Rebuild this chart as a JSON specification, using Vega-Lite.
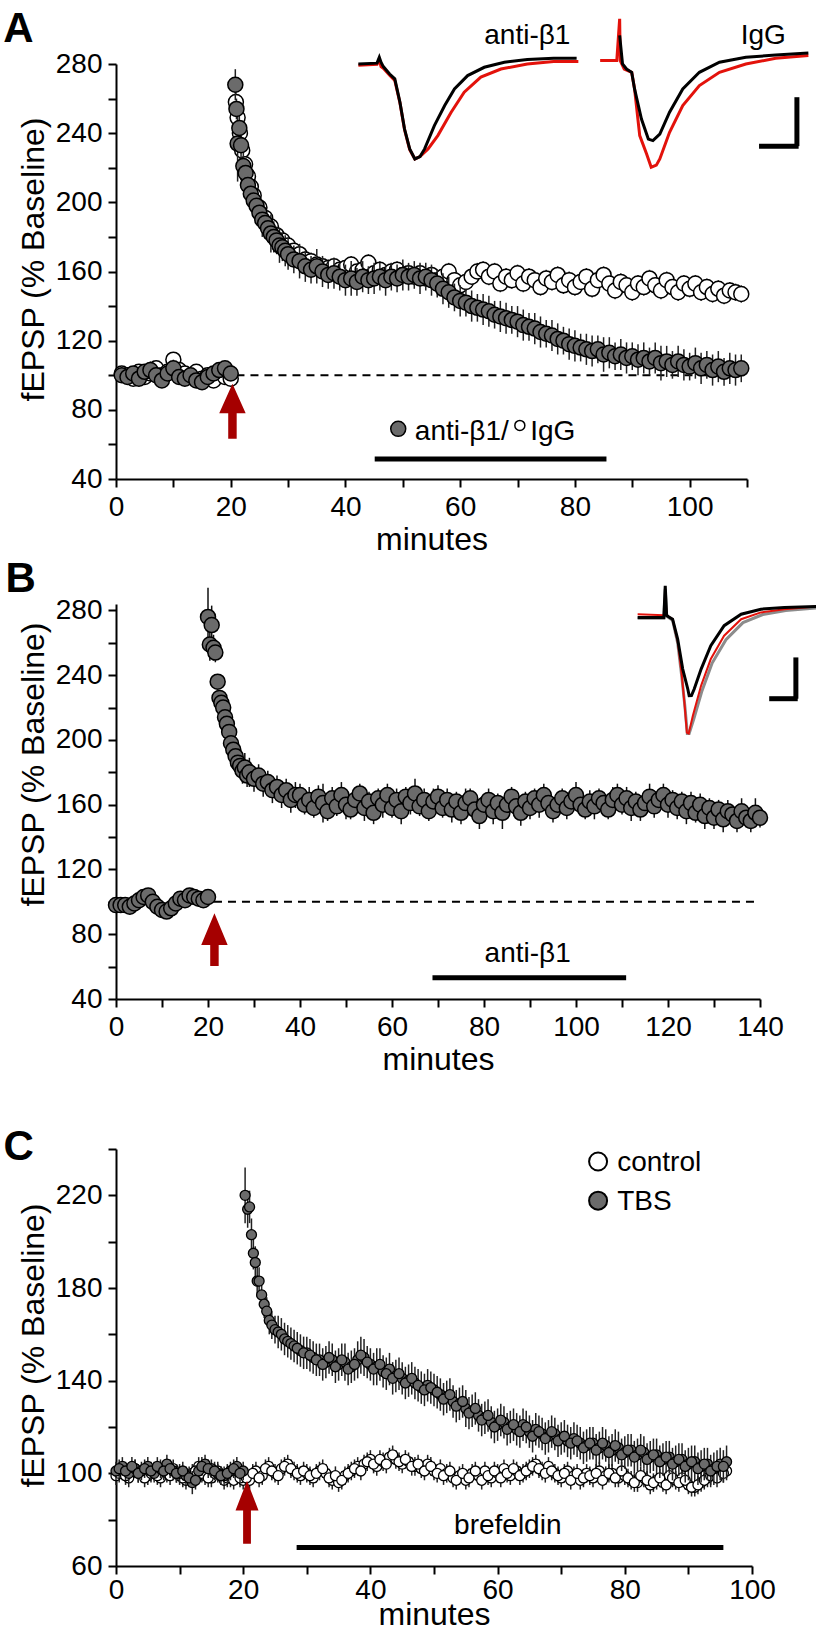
{
"$schema":"https://vega.github.io/schema/vega-lite/v6.json",
"background":"white",
"padding":{"left":3,"top":8,"right":5,"bottom":0},
"bounds":"flush",
"spacing":125,
"config":{
 "view":{"stroke":null},
 "font":"Liberation Sans",
 "axis":{"domainColor":"#000","domainWidth":2,"tickColor":"#000","tickWidth":2,"tickSize":8,"labelFontSize":28,"labelColor":"#000","labelFont":"Liberation Sans","titleFont":"Liberation Sans","titleFontSize":32,"titleFontWeight":"normal","titleColor":"#000","grid":false,"labelOverlap":false,"labelFlush":false},
 "axisX":{"labelPadding":6,"titlePadding":3},
 "axisY":{"labelPadding":6,"titlePadding":5},
 "text":{"font":"Liberation Sans","fontSize":28,"color":"#000"}
},
"datasets":{
 "aG":[{"t":1,"v":100,"e":3},{"t":2,"v":99,"e":3},{"t":3,"v":101,"e":3},{"t":4,"v":98,"e":4},{"t":5,"v":102,"e":4},{"t":6,"v":103,"e":5},{"t":7,"v":100,"e":4},{"t":8,"v":97,"e":4},{"t":9,"v":101,"e":4},{"t":10,"v":104,"e":5},{"t":11,"v":99,"e":4},{"t":12,"v":98,"e":4},{"t":13,"v":100,"e":4},{"t":14,"v":97,"e":4},{"t":15,"v":96,"e":4},{"t":16,"v":99,"e":4},{"t":17,"v":101,"e":4},{"t":18,"v":103,"e":4},{"t":19,"v":104,"e":4},{"t":20,"v":101,"e":4},
 {"t":20.8,"v":268,"e":9},{"t":21.0,"v":254,"e":6},{"t":21.2,"v":234,"e":22},{"t":21.5,"v":243,"e":8},{"t":21.8,"v":233,"e":10},{"t":22.2,"v":221,"e":8},{"t":22.6,"v":217,"e":7},{"t":23.0,"v":210,"e":7},{"t":23.5,"v":205,"e":8},{"t":24.0,"v":201,"e":7},{"t":24.5,"v":198,"e":7},{"t":25,"v":194,"e":9},{"t":25.5,"v":190,"e":10},{"t":26,"v":188,"e":9},{"t":26.5,"v":185,"e":8},{"t":27,"v":182,"e":11},{"t":27.5,"v":180,"e":9},{"t":28,"v":178,"e":8},{"t":28.5,"v":175,"e":10},{"t":29,"v":174,"e":8},{"t":29.5,"v":172,"e":9},{"t":30,"v":170,"e":9},{"t":31,"v":167,"e":8},{"t":32,"v":166,"e":10},{"t":33,"v":163,"e":9},{"t":34,"v":161,"e":8},{"t":35,"v":163,"e":10},{"t":36,"v":160,"e":9},{"t":37,"v":158,"e":8},{"t":38,"v":159,"e":9},{"t":39,"v":157,"e":8},{"t":40,"v":155,"e":9},{"t":41,"v":156,"e":10},{"t":42,"v":154,"e":8},{"t":43,"v":157,"e":9},{"t":44,"v":155,"e":8},{"t":45,"v":156,"e":9},{"t":46,"v":157,"e":8},{"t":47,"v":155,"e":9},{"t":48,"v":157,"e":8},{"t":49,"v":156,"e":8},{"t":50,"v":158,"e":9},{"t":51,"v":157,"e":8},{"t":52,"v":158,"e":8},{"t":53,"v":156,"e":9},{"t":54,"v":157,"e":8},{"t":55,"v":155,"e":9},{"t":56,"v":153,"e":8},{"t":57,"v":150,"e":9},{"t":58,"v":148,"e":9},{"t":59,"v":145,"e":8},{"t":60,"v":143,"e":9},{"t":61,"v":142,"e":8},{"t":62,"v":140,"e":9},{"t":63,"v":139,"e":8},{"t":64,"v":138,"e":9},{"t":65,"v":137,"e":9},{"t":66,"v":135,"e":8},{"t":67,"v":134,"e":9},{"t":68,"v":133,"e":9},{"t":69,"v":132,"e":8},{"t":70,"v":131,"e":9},{"t":71,"v":129,"e":9},{"t":72,"v":128,"e":8},{"t":73,"v":127,"e":9},{"t":74,"v":125,"e":9},{"t":75,"v":124,"e":8},{"t":76,"v":123,"e":9},{"t":77,"v":121,"e":9},{"t":78,"v":120,"e":8},{"t":79,"v":118,"e":9},{"t":80,"v":117,"e":9},{"t":81,"v":116,"e":8},{"t":82,"v":115,"e":9},{"t":83,"v":114,"e":9},{"t":84,"v":115,"e":8},{"t":85,"v":112,"e":10},{"t":86,"v":113,"e":9},{"t":87,"v":111,"e":8},{"t":88,"v":112,"e":9},{"t":89,"v":110,"e":9},{"t":90,"v":111,"e":8},{"t":91,"v":109,"e":9},{"t":92,"v":110,"e":9},{"t":93,"v":108,"e":8},{"t":94,"v":110,"e":9},{"t":95,"v":107,"e":10},{"t":96,"v":108,"e":9},{"t":97,"v":106,"e":8},{"t":98,"v":108,"e":9},{"t":99,"v":106,"e":9},{"t":100,"v":105,"e":8},{"t":101,"v":107,"e":9},{"t":102,"v":104,"e":9},{"t":103,"v":106,"e":8},{"t":104,"v":103,"e":9},{"t":105,"v":105,"e":9},{"t":106,"v":102,"e":8},{"t":107,"v":104,"e":9},{"t":108,"v":103,"e":9},{"t":109,"v":104,"e":8}],
 "aI":[{"t":1,"v":101,"e":2},{"t":2,"v":100,"e":2},{"t":3,"v":98,"e":2},{"t":4,"v":102,"e":3},{"t":5,"v":99,"e":2},{"t":6,"v":101,"e":3},{"t":7,"v":104,"e":3},{"t":8,"v":100,"e":2},{"t":9,"v":102,"e":3},{"t":10,"v":109,"e":3},{"t":11,"v":103,"e":3},{"t":12,"v":101,"e":2},{"t":13,"v":99,"e":3},{"t":14,"v":102,"e":3},{"t":15,"v":98,"e":2},{"t":16,"v":100,"e":3},{"t":17,"v":97,"e":2},{"t":18,"v":102,"e":3},{"t":19,"v":99,"e":2},{"t":20,"v":98,"e":3},
 {"t":20.9,"v":258,"e":6},{"t":21.2,"v":249,"e":6},{"t":21.6,"v":240,"e":5},{"t":22.0,"v":230,"e":6},{"t":22.5,"v":222,"e":5},{"t":23,"v":215,"e":5},{"t":23.5,"v":209,"e":5},{"t":24,"v":204,"e":5},{"t":25,"v":197,"e":5},{"t":26,"v":191,"e":5},{"t":27,"v":186,"e":5},{"t":28,"v":181,"e":5},{"t":29,"v":178,"e":5},{"t":30,"v":175,"e":5},{"t":31,"v":172,"e":5},{"t":32,"v":170,"e":5},{"t":33,"v":167,"e":5},{"t":34,"v":166,"e":5},{"t":35,"v":164,"e":5},{"t":36,"v":163,"e":5},{"t":37,"v":162,"e":5},{"t":38,"v":163,"e":5},{"t":39,"v":161,"e":5},{"t":40,"v":162,"e":5},{"t":41,"v":164,"e":5},{"t":42,"v":160,"e":5},{"t":43,"v":161,"e":5},{"t":44,"v":165,"e":5},{"t":45,"v":159,"e":5},{"t":46,"v":161,"e":5},{"t":47,"v":158,"e":5},{"t":48,"v":160,"e":5},{"t":49,"v":161,"e":5},{"t":50,"v":158,"e":5},{"t":51,"v":159,"e":5},{"t":52,"v":157,"e":5},{"t":53,"v":159,"e":5},{"t":54,"v":156,"e":5},{"t":55,"v":158,"e":5},{"t":56,"v":155,"e":5},{"t":57,"v":157,"e":5},{"t":58,"v":160,"e":5},{"t":59,"v":155,"e":5},{"t":60,"v":152,"e":5},{"t":61,"v":154,"e":5},{"t":62,"v":157,"e":5},{"t":63,"v":160,"e":5},{"t":64,"v":161,"e":5},{"t":65,"v":157,"e":5},{"t":66,"v":160,"e":5},{"t":67,"v":153,"e":5},{"t":68,"v":157,"e":5},{"t":69,"v":155,"e":5},{"t":70,"v":159,"e":5},{"t":71,"v":153,"e":5},{"t":72,"v":157,"e":5},{"t":73,"v":155,"e":5},{"t":74,"v":151,"e":5},{"t":75,"v":156,"e":5},{"t":76,"v":154,"e":5},{"t":77,"v":158,"e":5},{"t":78,"v":152,"e":5},{"t":79,"v":155,"e":5},{"t":80,"v":151,"e":5},{"t":81,"v":154,"e":5},{"t":82,"v":157,"e":5},{"t":83,"v":150,"e":5},{"t":84,"v":155,"e":5},{"t":85,"v":158,"e":5},{"t":86,"v":153,"e":5},{"t":87,"v":149,"e":5},{"t":88,"v":154,"e":5},{"t":89,"v":152,"e":5},{"t":90,"v":148,"e":5},{"t":91,"v":153,"e":5},{"t":92,"v":151,"e":5},{"t":93,"v":156,"e":5},{"t":94,"v":152,"e":5},{"t":95,"v":149,"e":5},{"t":96,"v":155,"e":5},{"t":97,"v":151,"e":5},{"t":98,"v":148,"e":5},{"t":99,"v":153,"e":5},{"t":100,"v":150,"e":5},{"t":101,"v":153,"e":5},{"t":102,"v":148,"e":5},{"t":103,"v":151,"e":5},{"t":104,"v":147,"e":5},{"t":105,"v":150,"e":5},{"t":106,"v":146,"e":5},{"t":107,"v":149,"e":5},{"t":108,"v":148,"e":5},{"t":109,"v":147,"e":5}],
 "aTrK":[{"g":"ab","i":1,"t":42.25,"v":280},{"g":"ab","i":2,"t":45.5,"v":280.5},{"g":"ab","i":3,"t":45.9,"v":283.9},{"g":"ab","i":4,"t":46.2,"v":281},{"g":"ab","i":5,"t":46.6,"v":278.5},{"g":"ab","i":6,"t":47.7,"v":274.2},{"g":"ab","i":7,"t":48.6,"v":271.4},{"g":"ab","i":8,"t":49.5,"v":257.9},{"g":"ab","i":9,"t":50.3,"v":242.4},{"g":"ab","i":10,"t":51.2,"v":230.9},{"g":"ab","i":11,"t":52.1,"v":225.1},{"g":"ab","i":12,"t":53.0,"v":226.5},{"g":"ab","i":13,"t":53.8,"v":230.9},{"g":"ab","i":14,"t":55.5,"v":244.4},{"g":"ab","i":15,"t":57.3,"v":256},{"g":"ab","i":16,"t":59.0,"v":265.6},{"g":"ab","i":17,"t":61.3,"v":273.3},{"g":"ab","i":18,"t":64.2,"v":278.1},{"g":"ab","i":19,"t":67.7,"v":281},{"g":"ab","i":20,"t":71.7,"v":282.6},{"g":"ab","i":21,"t":76.3,"v":283.3},{"g":"ab","i":22,"t":80.3,"v":283.3},
 {"g":"ig","i":1,"t":87.8,"v":296.6},{"g":"ig","i":2,"t":88.3,"v":280},{"g":"ig","i":3,"t":89.0,"v":277.1},{"g":"ig","i":4,"t":89.9,"v":275.2},{"g":"ig","i":5,"t":90.4,"v":265.6},{"g":"ig","i":6,"t":91.6,"v":248.2},{"g":"ig","i":7,"t":92.8,"v":236.6},{"g":"ig","i":8,"t":93.6,"v":235.7},{"g":"ig","i":9,"t":94.8,"v":239.5},{"g":"ig","i":10,"t":96.5,"v":252.1},{"g":"ig","i":11,"t":98.8,"v":265.6},{"g":"ig","i":12,"t":101.7,"v":275.2},{"g":"ig","i":13,"t":105.2,"v":281},{"g":"ig","i":14,"t":109.8,"v":283.9},{"g":"ig","i":15,"t":115.0,"v":285.2},{"g":"ig","i":16,"t":120.7,"v":286.4}],
 "aTrR":[{"g":"ab","i":1,"t":42.25,"v":279.3},{"g":"ab","i":2,"t":45.5,"v":279.8},{"g":"ab","i":3,"t":45.9,"v":282.5},{"g":"ab","i":4,"t":46.2,"v":278.5},{"g":"ab","i":5,"t":46.6,"v":277.5},{"g":"ab","i":6,"t":47.7,"v":273.5},{"g":"ab","i":7,"t":48.6,"v":270.5},{"g":"ab","i":8,"t":49.5,"v":257.5},{"g":"ab","i":9,"t":50.3,"v":242},{"g":"ab","i":10,"t":51.2,"v":230.5},{"g":"ab","i":11,"t":52.1,"v":225.1},{"g":"ab","i":12,"t":53.0,"v":226.5},{"g":"ab","i":13,"t":54.4,"v":230.9},{"g":"ab","i":14,"t":56.1,"v":238.6},{"g":"ab","i":15,"t":58.4,"v":252},{"g":"ab","i":16,"t":60.7,"v":263.7},{"g":"ab","i":17,"t":63.6,"v":272.4},{"g":"ab","i":18,"t":67.1,"v":277.1},{"g":"ab","i":19,"t":71.7,"v":280},{"g":"ab","i":20,"t":76.3,"v":281.4},{"g":"ab","i":21,"t":80.6,"v":281.4},
 {"g":"ig","i":1,"t":84.4,"v":282},{"g":"ig","i":2,"t":87.3,"v":282},{"g":"ig","i":3,"t":87.8,"v":306.1},{"g":"ig","i":4,"t":87.9,"v":282},{"g":"ig","i":5,"t":88.6,"v":277},{"g":"ig","i":6,"t":89.9,"v":275.2},{"g":"ig","i":7,"t":90.4,"v":265.6},{"g":"ig","i":8,"t":91.3,"v":238.6},{"g":"ig","i":9,"t":92.5,"v":228},{"g":"ig","i":10,"t":93.3,"v":220.3},{"g":"ig","i":11,"t":94.2,"v":221.5},{"g":"ig","i":12,"t":94.8,"v":225.1},{"g":"ig","i":13,"t":96.5,"v":240.5},{"g":"ig","i":14,"t":98.8,"v":256},{"g":"ig","i":15,"t":101.7,"v":267.5},{"g":"ig","i":16,"t":105.2,"v":275.2},{"g":"ig","i":17,"t":109.8,"v":280},{"g":"ig","i":18,"t":115.0,"v":283.3},{"g":"ig","i":19,"t":120.7,"v":284.9}],
 "b":[{"t":0,"v":98,"e":2},{"t":1,"v":98,"e":2},{"t":2,"v":98,"e":2},{"t":3,"v":97,"e":2},{"t":4,"v":99,"e":3},{"t":5,"v":101,"e":3},{"t":6,"v":103,"e":4},{"t":7,"v":104,"e":4},{"t":8,"v":100,"e":3},{"t":9,"v":97,"e":3},{"t":10,"v":95,"e":3},{"t":11,"v":94,"e":4},{"t":12,"v":96,"e":3},{"t":13,"v":99,"e":3},{"t":14,"v":102,"e":3},{"t":15,"v":101,"e":3},{"t":16,"v":104,"e":3},{"t":17,"v":103,"e":3},{"t":18,"v":102,"e":3},{"t":19,"v":101,"e":3},{"t":20,"v":103,"e":3},
 {"t":20.0,"v":276,"e":18},{"t":20.4,"v":259,"e":10},{"t":20.8,"v":271,"e":12},{"t":21.2,"v":257,"e":8},{"t":21.6,"v":254,"e":6},{"t":22.1,"v":236,"e":4},{"t":22.5,"v":226,"e":4},{"t":22.9,"v":223,"e":4},{"t":23.3,"v":220,"e":4},{"t":23.7,"v":214,"e":4},{"t":24.1,"v":210,"e":4},{"t":24.6,"v":205,"e":4},{"t":25.0,"v":198,"e":4},{"t":25.5,"v":194,"e":5},{"t":26.0,"v":190,"e":5},{"t":26.5,"v":186,"e":5},{"t":27,"v":184,"e":6},{"t":27.5,"v":181,"e":8},{"t":28,"v":183,"e":9},{"t":28.5,"v":178,"e":7},{"t":29,"v":180,"e":9},{"t":30,"v":176,"e":8},{"t":31,"v":178,"e":7},{"t":32,"v":173,"e":8},{"t":33,"v":174,"e":7},{"t":34,"v":169,"e":8},{"t":35,"v":171,"e":7},{"t":36,"v":166,"e":8},{"t":37,"v":169,"e":7},{"t":38,"v":163,"e":8},{"t":39,"v":166,"e":8},
 {"t":40,"v":166,"e":7},{"t":41,"v":160,"e":6},{"t":42,"v":163,"e":8},{"t":43,"v":158,"e":6},{"t":44,"v":165,"e":7},{"t":45,"v":161,"e":12},{"t":46,"v":156,"e":6},{"t":47,"v":164,"e":7},{"t":48,"v":159,"e":6},{"t":49,"v":166,"e":8},{"t":50,"v":160,"e":9},{"t":51,"v":157,"e":6},{"t":52,"v":163,"e":7},{"t":53,"v":167,"e":6},{"t":54,"v":158,"e":8},{"t":55,"v":162,"e":6},{"t":56,"v":155,"e":7},{"t":57,"v":164,"e":6},{"t":58,"v":160,"e":8},{"t":59,"v":166,"e":7},{"t":60,"v":158,"e":6},{"t":61,"v":163,"e":7},{"t":62,"v":156,"e":8},{"t":63,"v":165,"e":6},{"t":64,"v":161,"e":7},{"t":65,"v":167,"e":9},{"t":66,"v":159,"e":6},{"t":67,"v":163,"e":7},{"t":68,"v":156,"e":6},{"t":69,"v":162,"e":8},{"t":70,"v":165,"e":7},{"t":71,"v":158,"e":6},{"t":72,"v":163,"e":7},{"t":73,"v":157,"e":8},{"t":74,"v":162,"e":6},{"t":75,"v":155,"e":7},{"t":76,"v":161,"e":9},{"t":77,"v":164,"e":6},{"t":78,"v":157,"e":7},{"t":79,"v":153,"e":8},{"t":80,"v":160,"e":6},{"t":81,"v":163,"e":7},{"t":82,"v":156,"e":8},{"t":83,"v":161,"e":6},{"t":84,"v":155,"e":10},{"t":85,"v":160,"e":7},{"t":86,"v":165,"e":6},{"t":87,"v":159,"e":7},{"t":88,"v":155,"e":8},{"t":89,"v":162,"e":6},{"t":90,"v":158,"e":7},{"t":91,"v":164,"e":6},{"t":92,"v":160,"e":8},{"t":93,"v":166,"e":7},{"t":94,"v":161,"e":6},{"t":95,"v":156,"e":7},{"t":96,"v":160,"e":8},{"t":97,"v":164,"e":6},{"t":98,"v":158,"e":7},{"t":99,"v":162,"e":6},{"t":100,"v":166,"e":8},{"t":101,"v":160,"e":7},{"t":102,"v":157,"e":6},{"t":103,"v":162,"e":7},{"t":104,"v":159,"e":8},{"t":105,"v":164,"e":6},{"t":106,"v":161,"e":7},{"t":107,"v":157,"e":6},{"t":108,"v":163,"e":8},{"t":109,"v":166,"e":7},{"t":110,"v":160,"e":6},{"t":111,"v":164,"e":7},{"t":112,"v":158,"e":8},{"t":113,"v":162,"e":6},{"t":114,"v":157,"e":7},{"t":115,"v":161,"e":6},{"t":116,"v":165,"e":8},{"t":117,"v":159,"e":7},{"t":118,"v":163,"e":6},{"t":119,"v":166,"e":7},{"t":120,"v":160,"e":8},{"t":121,"v":163,"e":6},{"t":122,"v":158,"e":7},{"t":123,"v":162,"e":6},{"t":124,"v":156,"e":8},{"t":125,"v":161,"e":7},{"t":126,"v":155,"e":6},{"t":127,"v":160,"e":7},{"t":128,"v":153,"e":8},{"t":129,"v":158,"e":6},{"t":130,"v":152,"e":7},{"t":131,"v":157,"e":6},{"t":132,"v":151,"e":8},{"t":133,"v":156,"e":7},{"t":134,"v":154,"e":6},{"t":135,"v":150,"e":7},{"t":136,"v":156,"e":8},{"t":137,"v":152,"e":6},{"t":138,"v":150,"e":7},{"t":139,"v":155,"e":9},{"t":140,"v":152,"e":6}],
 "bTrG":[{"i":1,"t":113.4,"v":275.2},{"i":2,"t":119.1,"v":275.2},{"i":3,"t":119.4,"v":293},{"i":4,"t":119.7,"v":276.5},{"i":5,"t":120.2,"v":275.5},{"i":6,"t":121,"v":274},{"i":7,"t":122.1,"v":260},{"i":8,"t":123.0,"v":239},{"i":9,"t":123.7,"v":220},{"i":10,"t":124.2,"v":204},{"i":11,"t":124.6,"v":204},{"i":12,"t":125.6,"v":213},{"i":13,"t":127.4,"v":230.5},{"i":14,"t":129.6,"v":247.5},{"i":15,"t":132.6,"v":262},{"i":16,"t":136.3,"v":272.5},{"i":17,"t":140.6,"v":277.5},{"i":18,"t":145.6,"v":280},{"i":19,"t":152.2,"v":281.5}],
 "bTrR":[{"i":1,"t":113.4,"v":277.7},{"i":2,"t":119.1,"v":277.1},{"i":3,"t":119.4,"v":290},{"i":4,"t":119.7,"v":277},{"i":5,"t":120.2,"v":276},{"i":6,"t":121,"v":274.6},{"i":7,"t":122.1,"v":261},{"i":8,"t":123.0,"v":240},{"i":9,"t":123.6,"v":222},{"i":10,"t":124.1,"v":204.5},{"i":11,"t":124.5,"v":204},{"i":12,"t":125.4,"v":215},{"i":13,"t":127.2,"v":233.6},{"i":14,"t":129.3,"v":250},{"i":15,"t":132.2,"v":264.4},{"i":16,"t":135.9,"v":274.6},{"i":17,"t":140.2,"v":278.8},{"i":18,"t":145.3,"v":280.8},{"i":19,"t":152.2,"v":282.5}],
 "bTrK":[{"i":1,"t":113.4,"v":275.7},{"i":2,"t":119.1,"v":275.7},{"i":3,"t":119.4,"v":295.2},{"i":4,"t":119.7,"v":277},{"i":5,"t":120.2,"v":276},{"i":6,"t":121,"v":274.6},{"i":7,"t":122.1,"v":262.3},{"i":8,"t":123.2,"v":243.8},{"i":9,"t":124.3,"v":231.5},{"i":10,"t":124.6,"v":227.4},{"i":11,"t":125.1,"v":227.5},{"i":12,"t":125.7,"v":231.5},{"i":13,"t":127.2,"v":243.8},{"i":14,"t":129.3,"v":258.2},{"i":15,"t":132.2,"v":270.6},{"i":16,"t":135.9,"v":277.7},{"i":17,"t":140.2,"v":280.8},{"i":18,"t":145.3,"v":281.9},{"i":19,"t":152.2,"v":282.5}],
 "cT":[{"t":0,"v":101,"e":4},{"t":1,"v":103,"e":4},{"t":2,"v":100,"e":4},{"t":3,"v":102,"e":4},{"t":4,"v":101,"e":4},{"t":5,"v":103,"e":4},{"t":6,"v":100,"e":4},{"t":7,"v":102,"e":4},{"t":8,"v":104,"e":4},{"t":9,"v":101,"e":4},{"t":10,"v":100,"e":4},{"t":11,"v":99,"e":4},{"t":12,"v":96,"e":5},{"t":13,"v":101,"e":4},{"t":14,"v":104,"e":4},{"t":15,"v":102,"e":4},{"t":16,"v":100,"e":4},{"t":17,"v":99,"e":4},{"t":18,"v":101,"e":4},{"t":19,"v":103,"e":4},{"t":20,"v":101,"e":4},
 {"t":0.5,"v":102,"e":4},{"t":1.5,"v":101,"e":4},{"t":2.5,"v":103,"e":4},{"t":3.5,"v":100,"e":4},{"t":4.5,"v":102,"e":4},{"t":5.5,"v":101,"e":4},{"t":6.5,"v":103,"e":4},{"t":7.5,"v":101,"e":4},{"t":8.5,"v":102,"e":4},{"t":9.5,"v":100,"e":4},{"t":10.5,"v":101,"e":4},{"t":11.5,"v":98,"e":4},{"t":12.5,"v":97,"e":4},{"t":13.5,"v":103,"e":4},{"t":14.5,"v":102,"e":4},{"t":15.5,"v":101,"e":4},{"t":16.5,"v":99,"e":4},{"t":17.5,"v":100,"e":4},{"t":18.5,"v":102,"e":4},{"t":19.5,"v":100,"e":4},
 {"t":20.3,"v":220,"e":12},{"t":20.7,"v":214,"e":8},{"t":21.0,"v":215,"e":7},{"t":21.3,"v":203,"e":7},{"t":21.6,"v":195,"e":7},{"t":21.9,"v":191,"e":7},{"t":22.2,"v":183,"e":7},{"t":22.5,"v":183,"e":6},{"t":22.9,"v":177,"e":6},{"t":23.3,"v":173,"e":6},{"t":23.7,"v":170,"e":6},{"t":24.1,"v":166,"e":6},{"t":24.5,"v":164,"e":6},{"t":25,"v":162,"e":6},{"t":25.5,"v":161,"e":7},{"t":26,"v":160,"e":7},{"t":26.5,"v":158,"e":7},{"t":27,"v":157,"e":7},{"t":27.5,"v":156,"e":7},{"t":28,"v":155,"e":7},{"t":29,"v":153,"e":7},{"t":30,"v":152,"e":7},{"t":31,"v":150,"e":7},{"t":32,"v":149,"e":7},{"t":33,"v":148,"e":7},{"t":34,"v":149,"e":7},{"t":35,"v":147,"e":7},{"t":36,"v":148,"e":8},{"t":37,"v":146,"e":7},{"t":38,"v":149,"e":8},{"t":39,"v":150,"e":8},{"t":40,"v":147,"e":7},{"t":41,"v":146,"e":8},{"t":42,"v":144,"e":7},{"t":43,"v":145,"e":7},{"t":44,"v":142,"e":7},{"t":45,"v":141,"e":7},{"t":46,"v":140,"e":7},{"t":47,"v":139,"e":7},{"t":48,"v":137,"e":7},{"t":49,"v":138,"e":7},{"t":50,"v":136,"e":7},{"t":51,"v":134,"e":7},{"t":52,"v":133,"e":7},{"t":53,"v":131,"e":7},{"t":54,"v":130,"e":7},{"t":55,"v":128,"e":8},{"t":56,"v":127,"e":7},{"t":57,"v":125,"e":7},{"t":58,"v":124,"e":7},{"t":59,"v":122,"e":7},{"t":60,"v":121,"e":7},{"t":61,"v":122,"e":7},{"t":62,"v":120,"e":7},{"t":63,"v":119,"e":7},{"t":64,"v":121,"e":7},{"t":65,"v":118,"e":7},{"t":66,"v":119,"e":7},{"t":67,"v":117,"e":7},{"t":68,"v":116,"e":7},{"t":69,"v":117,"e":7},{"t":70,"v":115,"e":7},{"t":71,"v":114,"e":7},{"t":72,"v":115,"e":7},{"t":73,"v":113,"e":7},{"t":74,"v":112,"e":7},{"t":75,"v":113,"e":7},{"t":76,"v":111,"e":7},{"t":77,"v":112,"e":7},{"t":78,"v":110,"e":7},{"t":79,"v":111,"e":7},{"t":80,"v":109,"e":7},{"t":81,"v":110,"e":7},{"t":82,"v":108,"e":7},{"t":83,"v":109,"e":7},{"t":84,"v":107,"e":7},{"t":85,"v":108,"e":7},{"t":86,"v":106,"e":7},{"t":87,"v":107,"e":7},{"t":88,"v":105,"e":7},{"t":89,"v":106,"e":7},{"t":90,"v":104,"e":7},{"t":91,"v":105,"e":7},{"t":92,"v":103,"e":7},{"t":93,"v":104,"e":7},{"t":94,"v":102,"e":7},{"t":95,"v":104,"e":7},{"t":96,"v":105,"e":7},
 {"t":28.5,"v":154,"e":7},{"t":29.5,"v":152,"e":7},{"t":30.5,"v":151,"e":7},{"t":31.5,"v":149,"e":7},{"t":32.5,"v":147,"e":7},{"t":33.5,"v":150,"e":7},{"t":34.5,"v":146,"e":7},{"t":35.5,"v":149,"e":7},{"t":36.5,"v":145,"e":7},{"t":37.5,"v":147,"e":7},{"t":38.5,"v":151,"e":8},{"t":39.5,"v":148,"e":7},{"t":40.5,"v":145,"e":7},{"t":41.5,"v":147,"e":7},{"t":42.5,"v":143,"e":7},{"t":43.5,"v":141,"e":7},{"t":44.5,"v":143,"e":7},{"t":45.5,"v":139,"e":7},{"t":46.5,"v":141,"e":7},{"t":47.5,"v":138,"e":7},{"t":48.5,"v":136,"e":7},{"t":49.5,"v":137,"e":7},{"t":50.5,"v":135,"e":7},{"t":51.5,"v":132,"e":7},{"t":52.5,"v":134,"e":7},{"t":53.5,"v":129,"e":7},{"t":54.5,"v":131,"e":7},{"t":55.5,"v":126,"e":7},{"t":56.5,"v":128,"e":7},{"t":57.5,"v":123,"e":7},{"t":58.5,"v":125,"e":7},{"t":59.5,"v":120,"e":7},{"t":60.5,"v":123,"e":7},{"t":61.5,"v":119,"e":7},{"t":62.5,"v":121,"e":7},{"t":63.5,"v":118,"e":7},{"t":64.5,"v":120,"e":7},{"t":65.5,"v":116,"e":7},{"t":66.5,"v":118,"e":7},{"t":67.5,"v":115,"e":7},{"t":68.5,"v":118,"e":7},{"t":69.5,"v":114,"e":7},{"t":70.5,"v":116,"e":7},{"t":71.5,"v":113,"e":7},{"t":72.5,"v":114,"e":7},{"t":73.5,"v":111,"e":7},{"t":74.5,"v":113,"e":7},{"t":75.5,"v":110,"e":7},{"t":76.5,"v":113,"e":7},{"t":77.5,"v":109,"e":7},{"t":78.5,"v":112,"e":7},{"t":79.5,"v":108,"e":7},{"t":80.5,"v":110,"e":7},{"t":81.5,"v":107,"e":7},{"t":82.5,"v":110,"e":7},{"t":83.5,"v":106,"e":7},{"t":84.5,"v":108,"e":7},{"t":85.5,"v":105,"e":7},{"t":86.5,"v":107,"e":7},{"t":87.5,"v":104,"e":7},{"t":88.5,"v":106,"e":7},{"t":89.5,"v":103,"e":7},{"t":90.5,"v":105,"e":7},{"t":91.5,"v":102,"e":7},{"t":92.5,"v":104,"e":7},{"t":93.5,"v":101,"e":7},{"t":94.5,"v":103,"e":7},{"t":95.5,"v":103,"e":7}],
 "cC":[{"t":0,"v":99,"e":4},{"t":1,"v":101,"e":4},{"t":2,"v":98,"e":4},{"t":3,"v":102,"e":4},{"t":4,"v":100,"e":4},{"t":5,"v":99,"e":4},{"t":6,"v":101,"e":4},{"t":7,"v":98,"e":4},{"t":8,"v":100,"e":4},{"t":9,"v":102,"e":4},{"t":10,"v":99,"e":4},{"t":11,"v":97,"e":4},{"t":12,"v":100,"e":4},{"t":13,"v":103,"e":4},{"t":14,"v":99,"e":4},{"t":15,"v":98,"e":4},{"t":16,"v":101,"e":4},{"t":17,"v":97,"e":4},{"t":18,"v":98,"e":4},{"t":19,"v":99,"e":4},{"t":20,"v":97,"e":4},
 {"t":0.5,"v":100,"e":4},{"t":1.5,"v":99,"e":4},{"t":2.5,"v":101,"e":4},{"t":3.5,"v":100,"e":4},{"t":4.5,"v":98,"e":4},{"t":5.5,"v":100,"e":4},{"t":6.5,"v":99,"e":4},{"t":7.5,"v":101,"e":4},{"t":8.5,"v":99,"e":4},{"t":9.5,"v":100,"e":4},{"t":10.5,"v":98,"e":4},{"t":11.5,"v":99,"e":4},{"t":12.5,"v":101,"e":4},{"t":13.5,"v":100,"e":4},{"t":14.5,"v":98,"e":4},{"t":15.5,"v":100,"e":4},{"t":16.5,"v":99,"e":4},{"t":17.5,"v":98,"e":4},{"t":18.5,"v":97,"e":4},{"t":19.5,"v":98,"e":4},
 {"t":21,"v":97,"e":4},{"t":22,"v":101,"e":4},{"t":23,"v":99,"e":4},{"t":24,"v":103,"e":4},{"t":25,"v":100,"e":4},{"t":26,"v":102,"e":4},{"t":27,"v":104,"e":4},{"t":28,"v":101,"e":4},{"t":29,"v":99,"e":4},{"t":30,"v":100,"e":4},{"t":31,"v":98,"e":4},{"t":32,"v":101,"e":4},{"t":33,"v":100,"e":4},{"t":34,"v":97,"e":4},{"t":35,"v":96,"e":4},{"t":36,"v":99,"e":4},{"t":37,"v":101,"e":4},{"t":38,"v":103,"e":4},{"t":39,"v":104,"e":4},{"t":40,"v":106,"e":4},{"t":41,"v":103,"e":4},{"t":42,"v":105,"e":4},{"t":43,"v":107,"e":4},{"t":44,"v":106,"e":4},{"t":45,"v":104,"e":4},{"t":46,"v":105,"e":4},{"t":47,"v":103,"e":4},{"t":48,"v":102,"e":4},{"t":49,"v":104,"e":4},{"t":50,"v":101,"e":4},{"t":51,"v":102,"e":4},{"t":52,"v":100,"e":4},{"t":53,"v":98,"e":4},{"t":54,"v":99,"e":4},{"t":55,"v":97,"e":4},{"t":56,"v":100,"e":4},{"t":57,"v":99,"e":4},{"t":58,"v":101,"e":4},{"t":59,"v":98,"e":4},{"t":60,"v":100,"e":4},{"t":61,"v":102,"e":4},{"t":62,"v":99,"e":4},{"t":63,"v":101,"e":4},{"t":64,"v":100,"e":4},{"t":65,"v":102,"e":4},{"t":66,"v":104,"e":4},{"t":67,"v":101,"e":4},{"t":68,"v":103,"e":4},{"t":69,"v":100,"e":4},{"t":70,"v":98,"e":4},{"t":71,"v":101,"e":4},{"t":72,"v":99,"e":4},{"t":73,"v":97,"e":4},{"t":74,"v":100,"e":4},{"t":75,"v":98,"e":4},{"t":76,"v":101,"e":4},{"t":77,"v":99,"e":4},{"t":78,"v":100,"e":4},{"t":79,"v":98,"e":4},{"t":80,"v":99,"e":4},{"t":81,"v":97,"e":4},{"t":82,"v":96,"e":4},{"t":83,"v":98,"e":4},{"t":84,"v":95,"e":4},{"t":85,"v":97,"e":4},{"t":86,"v":96,"e":4},{"t":87,"v":99,"e":4},{"t":88,"v":97,"e":4},{"t":89,"v":98,"e":4},{"t":90,"v":95,"e":4},{"t":91,"v":94,"e":4},{"t":92,"v":96,"e":4},{"t":93,"v":98,"e":4},{"t":94,"v":100,"e":4},{"t":95,"v":102,"e":4},{"t":96,"v":101,"e":4},
 {"t":20.5,"v":98,"e":4},{"t":21.5,"v":100,"e":4},{"t":22.5,"v":98,"e":4},{"t":23.5,"v":102,"e":4},{"t":24.5,"v":101,"e":4},{"t":25.5,"v":99,"e":4},{"t":26.5,"v":103,"e":4},{"t":27.5,"v":102,"e":4},{"t":28.5,"v":100,"e":4},{"t":29.5,"v":101,"e":4},{"t":30.5,"v":99,"e":4},{"t":31.5,"v":100,"e":4},{"t":32.5,"v":102,"e":4},{"t":33.5,"v":98,"e":4},{"t":34.5,"v":99,"e":4},{"t":35.5,"v":97,"e":4},{"t":36.5,"v":100,"e":4},{"t":37.5,"v":102,"e":4},{"t":38.5,"v":101,"e":4},{"t":39.5,"v":105,"e":4},{"t":40.5,"v":104,"e":4},{"t":41.5,"v":106,"e":4},{"t":42.5,"v":104,"e":4},{"t":43.5,"v":108,"e":4},{"t":44.5,"v":105,"e":4},{"t":45.5,"v":106,"e":4},{"t":46.5,"v":103,"e":4},{"t":47.5,"v":104,"e":4},{"t":48.5,"v":101,"e":4},{"t":49.5,"v":103,"e":4},{"t":50.5,"v":100,"e":4},{"t":51.5,"v":99,"e":4},{"t":52.5,"v":101,"e":4},{"t":53.5,"v":97,"e":4},{"t":54.5,"v":100,"e":4},{"t":55.5,"v":98,"e":4},{"t":56.5,"v":101,"e":4},{"t":57.5,"v":97,"e":4},{"t":58.5,"v":99,"e":4},{"t":59.5,"v":101,"e":4},{"t":60.5,"v":98,"e":4},{"t":61.5,"v":100,"e":4},{"t":62.5,"v":102,"e":4},{"t":63.5,"v":99,"e":4},{"t":64.5,"v":101,"e":4},{"t":65.5,"v":103,"e":4},{"t":66.5,"v":102,"e":4},{"t":67.5,"v":100,"e":4},{"t":68.5,"v":101,"e":4},{"t":69.5,"v":99,"e":4},{"t":70.5,"v":100,"e":4},{"t":71.5,"v":97,"e":4},{"t":72.5,"v":100,"e":4},{"t":73.5,"v":98,"e":4},{"t":74.5,"v":99,"e":4},{"t":75.5,"v":100,"e":4},{"t":76.5,"v":97,"e":4},{"t":77.5,"v":100,"e":4},{"t":78.5,"v":98,"e":4},{"t":79.5,"v":101,"e":4},{"t":80.5,"v":98,"e":4},{"t":81.5,"v":96,"e":4},{"t":82.5,"v":99,"e":4},{"t":83.5,"v":97,"e":4},{"t":84.5,"v":96,"e":4},{"t":85.5,"v":98,"e":4},{"t":86.5,"v":95,"e":4},{"t":87.5,"v":98,"e":4},{"t":88.5,"v":96,"e":4},{"t":89.5,"v":97,"e":4},{"t":90.5,"v":94,"e":4},{"t":91.5,"v":95,"e":4},{"t":92.5,"v":97,"e":4},{"t":93.5,"v":99,"e":4},{"t":94.5,"v":98,"e":4},{"t":95.5,"v":100,"e":4}]
},
"vconcat":[
{
 "width":631,"height":415,
 "encoding":{
  "x":{"field":"t","type":"quantitative","scale":{"domain":[0,110],"nice":false,"zero":false},"axis":{"values":[0,10,20,30,40,50,60,70,80,90,100,110],"labelExpr":"datum.value % 20 == 0 ? datum.label : ''","title":"minutes"}},
  "y":{"field":"v","type":"quantitative","scale":{"domain":[40,280],"nice":false,"zero":false},"axis":{"values":[40,60,80,100,120,140,160,180,200,220,240,260,280],"labelExpr":"datum.value % 40 == 0 ? datum.label : ''","title":"fEPSP (% Baseline)","titleY":195}}
 },
 "layer":[
  {"data":{"values":[{"t":21,"t2":109.5,"v":100,"v2":100}]},"mark":{"type":"rule","strokeDash":[8,6],"strokeWidth":2,"color":"#000"},"encoding":{"x2":{"field":"t2"},"y2":{"field":"v2"}}},
  {"data":{"name":"aI"},"mark":{"type":"errorbar","ticks":false,"thickness":1.5,"color":"#333"},"encoding":{"yError":{"field":"e"}}},
  {"data":{"name":"aI"},"mark":{"type":"circle","size":225,"fill":"#fff","stroke":"#000","strokeWidth":1.5,"opacity":1}},
  {"data":{"name":"aG"},"mark":{"type":"errorbar","ticks":false,"thickness":1.5,"color":"#222"},"encoding":{"yError":{"field":"e"}}},
  {"data":{"name":"aG"},"mark":{"type":"circle","size":225,"fill":"#6b6b6b","stroke":"#000","strokeWidth":1.5,"opacity":1}},
  {"data":{"values":[{"t":45.1,"t2":85.5,"v":51.6,"v2":51.6},{"t":118.7,"t2":118.7,"v":260.8,"v2":232.5},{"t":112.1,"t2":119.0,"v":232.5,"v2":232.5}]},"mark":{"type":"rule","strokeWidth":5,"color":"#000"},"encoding":{"x2":{"field":"t2"},"y2":{"field":"v2"}}},
  {"data":{"values":[{"t":20.3,"v":78}]},"mark":{"type":"point","shape":"M0,-2.24L1,0L0.32,0L0.32,1.92L-0.32,1.92L-0.32,0L-1,0Z","size":700,"filled":true,"fill":"#a50000","strokeWidth":0,"opacity":1}},
  {"data":{"name":"aTrR"},"mark":{"type":"line","color":"#e3120b","strokeWidth":3},"encoding":{"detail":{"field":"g"},"order":{"field":"i"}}},
  {"data":{"name":"aTrK"},"mark":{"type":"line","color":"#000","strokeWidth":3},"encoding":{"detail":{"field":"g"},"order":{"field":"i"}}},
  {"data":{"values":[{"t":49.2,"v":69}]},"mark":{"type":"circle","size":225,"fill":"#6b6b6b","stroke":"#000","strokeWidth":1.5,"opacity":1}},
  {"data":{"values":[{"t":70.4,"v":71}]},"mark":{"type":"circle","size":100,"fill":"#fff","stroke":"#000","strokeWidth":1.5,"opacity":1}},
  {"data":{"values":[{"t":52.1,"v":62.8,"txt":"anti-β1/"},{"t":72.2,"v":62.8,"txt":"IgG"},{"t":64.2,"v":291.6,"txt":"anti-β1"},{"t":108.9,"v":291.6,"txt":"IgG"}]},"mark":{"type":"text","align":"left","baseline":"alphabetic","fontSize":28},"encoding":{"text":{"field":"txt"}}},
  {"data":{"values":[{"t":-17,"v":292.6,"txt":"A"}]},"mark":{"type":"text","align":"center","baseline":"alphabetic","fontSize":42,"fontWeight":"bold"},"encoding":{"text":{"field":"txt"}}}
 ]
},
{
 "width":644,"height":395,
 "encoding":{
  "x":{"field":"t","type":"quantitative","scale":{"domain":[0,140],"nice":false,"zero":false},"axis":{"values":[0,10,20,30,40,50,60,70,80,90,100,110,120,130,140],"labelExpr":"datum.value % 20 == 0 ? datum.label : ''","title":"minutes"}},
  "y":{"field":"v","type":"quantitative","scale":{"domain":[40,284],"nice":false,"zero":false},"axis":{"values":[40,60,80,100,120,140,160,180,200,220,240,260,280],"labelExpr":"datum.value % 40 == 0 ? datum.label : ''","title":"fEPSP (% Baseline)","titleY":160}}
 },
 "layer":[
  {"data":{"values":[{"t":21.3,"t2":139.1,"v":100,"v2":100}]},"mark":{"type":"rule","strokeDash":[8,6],"strokeWidth":2,"color":"#000"},"encoding":{"x2":{"field":"t2"},"y2":{"field":"v2"}}},
  {"data":{"name":"b"},"mark":{"type":"errorbar","ticks":false,"thickness":1.5,"color":"#111"},"encoding":{"yError":{"field":"e"}}},
  {"data":{"name":"b"},"mark":{"type":"circle","size":225,"fill":"#6b6b6b","stroke":"#000","strokeWidth":1.5,"opacity":1}},
  {"data":{"values":[{"t":68.8,"t2":110.9,"v":53.1,"v2":53.1},{"t":147.8,"t2":147.8,"v":251,"v2":225.5},{"t":142,"t2":148.2,"v":225.5,"v2":225.5}]},"mark":{"type":"rule","strokeWidth":5,"color":"#000"},"encoding":{"x2":{"field":"t2"},"y2":{"field":"v2"}}},
  {"data":{"values":[{"t":21.4,"v":73.4}]},"mark":{"type":"point","shape":"M0,-2.4L1,0L0.32,0L0.32,1.6L-0.32,1.6L-0.32,0L-1,0Z","size":700,"filled":true,"fill":"#a50000","strokeWidth":0,"opacity":1}},
  {"data":{"name":"bTrG"},"mark":{"type":"line","color":"#8c8c8c","strokeWidth":3},"encoding":{"order":{"field":"i"}}},
  {"data":{"name":"bTrR"},"mark":{"type":"line","color":"#e3120b","strokeWidth":2},"encoding":{"order":{"field":"i"}}},
  {"data":{"name":"bTrK"},"mark":{"type":"line","color":"#000","strokeWidth":3},"encoding":{"order":{"field":"i"}}},
  {"data":{"values":[{"t":89.5,"v":62.8,"txt":"anti-β1"}]},"mark":{"type":"text","align":"center","baseline":"alphabetic","fontSize":28},"encoding":{"text":{"field":"txt"}}},
  {"data":{"values":[{"t":-20.7,"v":291.6,"txt":"B"}]},"mark":{"type":"text","align":"center","baseline":"alphabetic","fontSize":42,"fontWeight":"bold"},"encoding":{"text":{"field":"txt"}}}
 ]
},
{
 "width":636,"height":442,
 "encoding":{
  "x":{"field":"t","type":"quantitative","scale":{"domain":[0,100],"nice":false,"zero":false},"axis":{"values":[0,10,20,30,40,50,60,70,80,90,100],"labelExpr":"datum.value % 20 == 0 ? datum.label : ''","title":"minutes","labelPadding":2,"titlePadding":-5}},
  "y":{"field":"v","type":"quantitative","scale":{"domain":[60,240],"nice":false,"zero":false,"range":[442,25]},"axis":{"values":[60,80,100,120,140,160,180,200,220,240],"labelExpr":"(datum.value - 60) % 40 == 0 ? datum.label : ''","title":"fEPSP (% Baseline)","titleY":221}}
 },
 "layer":[
  {"data":{"name":"cC"},"mark":{"type":"errorbar","ticks":false,"thickness":1.5,"color":"#222"},"encoding":{"yError":{"field":"e"}}},
  {"data":{"name":"cC"},"mark":{"type":"circle","size":100,"fill":"#fff","stroke":"#000","strokeWidth":1.3,"opacity":1}},
  {"data":{"name":"cT"},"mark":{"type":"errorbar","ticks":false,"thickness":1.5,"color":"#222"},"encoding":{"yError":{"field":"e"}}},
  {"data":{"name":"cT"},"mark":{"type":"circle","size":100,"fill":"#6b6b6b","stroke":"#000","strokeWidth":1.3,"opacity":1}},
  {"data":{"values":[{"t":28.4,"t2":95.5,"v":68,"v2":68}]},"mark":{"type":"rule","strokeWidth":5,"color":"#000"},"encoding":{"x2":{"field":"t2"},"y2":{"field":"v2"}}},
  {"data":{"values":[{"t":20.6,"v":84}]},"mark":{"type":"point","shape":"M0,-2.58L1,0L0.34,0L0.34,2.9L-0.34,2.9L-0.34,0L-1,0Z","size":529,"filled":true,"fill":"#a50000","strokeWidth":0,"opacity":1}},
  {"data":{"values":[{"t":75.8,"v":234.6}]},"mark":{"type":"circle","size":324,"fill":"#fff","stroke":"#000","strokeWidth":2,"opacity":1}},
  {"data":{"values":[{"t":75.8,"v":217.7}]},"mark":{"type":"circle","size":324,"fill":"#6b6b6b","stroke":"#000","strokeWidth":2,"opacity":1}},
  {"data":{"values":[{"t":78.8,"v":230.6,"txt":"control"},{"t":78.8,"v":213.7,"txt":"TBS"}]},"mark":{"type":"text","align":"left","baseline":"alphabetic","fontSize":28},"encoding":{"text":{"field":"txt"}}},
  {"data":{"values":[{"t":61.6,"v":73.6,"txt":"brefeldin"}]},"mark":{"type":"text","align":"center","baseline":"alphabetic","fontSize":28},"encoding":{"text":{"field":"txt"}}},
  {"data":{"values":[{"t":-15.3,"v":235.2,"txt":"C"}]},"mark":{"type":"text","align":"center","baseline":"alphabetic","fontSize":42,"fontWeight":"bold"},"encoding":{"text":{"field":"txt"}}}
 ]
}
]
}
